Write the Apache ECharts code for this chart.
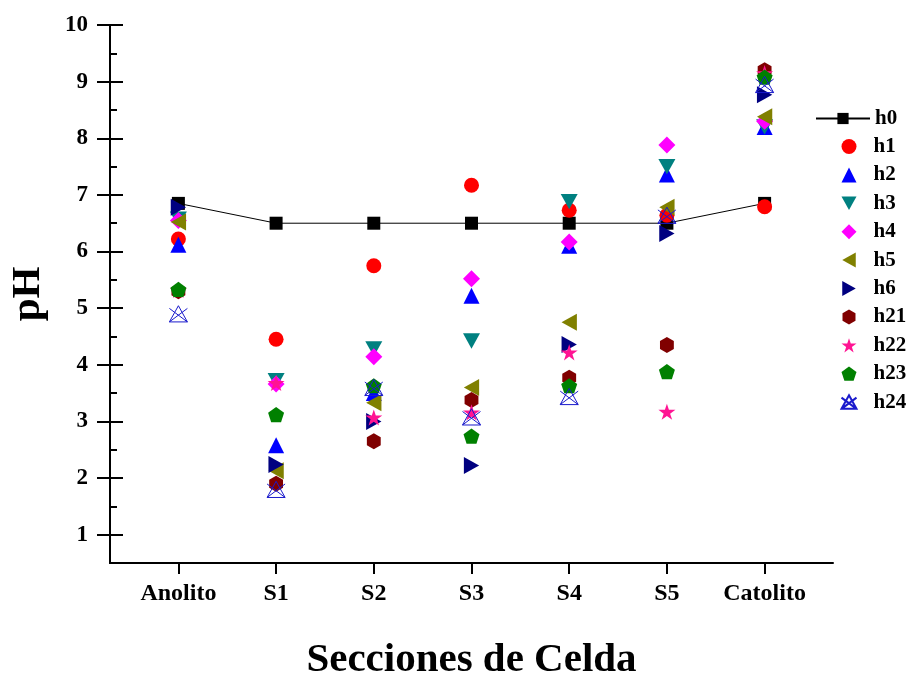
<!DOCTYPE html>
<html>
<head>
<meta charset="utf-8">
<script src="https://cdn.jsdelivr.net/npm/echarts@6/dist/echarts.min.js"></script>
<style>html,body{margin:0;padding:0;background:#fff}#c{width:912px;height:673px}</style>
</head>
<body>
<div id="c"></div>
<script>
const categories = ['Anolito','S1','S2','S3','S4','S5','Catolito'];
const yTicks = [1,2,3,4,5,6,7,8,9,10];
const h0  = [6.85, 6.5, 6.5, 6.5, 6.5, 6.5, 6.85];
const h1  = [6.22, 4.45, 5.75, 7.17, 6.73, 6.64, 6.79];
const h2  = [6.12, 2.58, 3.5, 5.22, 6.1, 7.36, 8.2];
const h3  = [6.57, 3.72, 4.28, 4.42, 6.88, 7.5, 8.2];
const h4  = [6.55, 3.66, 4.14, 5.52, 6.17, 7.88, 8.3];
const h5  = [6.52, 2.13, 3.33, 3.6, 4.75, 6.78, 8.38];
const h6  = [6.78, 2.24, 3.0, 2.22, 4.36, 6.32, 8.77];
const h21 = [5.3, 1.9, 2.65, 3.38, 3.77, 4.35, 9.2];
const h22 = [5.32, 3.68, 3.07, 3.16, 4.22, 3.17, 9.15];
const h23 = [5.33, 3.12, 3.63, 2.74, 3.63, 3.88, 9.08];
const h24 = [4.9, 1.8, 3.6, 3.08, 3.44, 6.64, 8.95];

const FONT = '"Liberation Serif", "Times New Roman", serif';
const toXY = arr => arr.map((v, i) => [i + 1, v]);

const P = {
  down: 'path://M0,0 L10,0 L5,9 Z',
  left: 'path://M0,5 L9,0 L9,10 Z',
  right: 'path://M0,0 L9,5 L0,10 Z',
  hex: 'path://M5,0 L9.33,2.5 L9.33,7.5 L5,10 L0.67,7.5 L0.67,2.5 Z',
  star: 'path://M5,0 L6.18,3.62 L10,3.62 L6.9,5.86 L8.09,9.5 L5,7.26 L1.91,9.5 L3.1,5.86 L0,3.62 L3.82,3.62 Z',
  pent: 'path://M5,0 L10,3.63 L8.09,9.51 L1.91,9.51 L0,3.63 Z',
  xtri: 'path://M5,0 L10,9 L0,9 Z M0,1.5 L10,9 M10,1.5 L0,9'
};

function sc(name, data, symbol, size, color, extra) {
  return Object.assign({
    name, type: 'scatter', data: toXY(data), symbol, symbolSize: size,
    symbolKeepAspect: true,
    itemStyle: { color, opacity: 1 },
    emphasis: { disabled: true }
  }, extra || {});
}

const series = [
  { name: 'h0', type: 'line', data: toXY(h0), symbol: 'rect', symbolSize: 13,
    lineStyle: { color: '#000', width: 1 }, itemStyle: { color: '#000' },
    emphasis: { disabled: true }, z: 1 },
  sc('h1', h1, 'circle', 15, '#ff0000'),
  sc('h2', h2, 'triangle', 16, '#0000ff'),
  sc('h3', h3, P.down, 17, '#008080'),
  sc('h4', h4, 'diamond', 17, '#ff00ff'),
  sc('h5', h5, P.left, 17, '#808000'),
  sc('h6', h6, P.right, 17, '#000080'),
  sc('h21', h21, P.hex, 16, '#800000'),
  sc('h22', h22, P.star, 17, '#ff1493'),
  sc('h23', h23, P.pent, 16, '#008000'),
  sc('h24', h24, P.xtri, 18, 'none', { itemStyle: { color: 'none', borderColor: '#1a1acc', borderWidth: 1, opacity: 1 } })
];

const chart = echarts.init(document.getElementById('c'), null, { renderer: 'canvas' });
const yAxisBase = {
  type: 'value', min: 0.5, max: 10, position: 'left',
  axisLine: { show: true, lineStyle: { color: '#000', width: 2 } },
  splitLine: { show: false }
};
chart.setOption({
  animation: false,
  backgroundColor: '#fff',
  grid: { left: 110, right: 79, top: 25, bottom: 110, containLabel: false, outerBoundsMode: 'none' },
  xAxis: {
    type: 'value', min: 0.3, max: 7.7,
    axisLine: { show: true, lineStyle: { color: '#000', width: 2 } },
    axisTick: { show: true, length: 11, lineStyle: { color: '#000', width: 2 }, customValues: [1,2,3,4,5,6,7] },
    axisLabel: { customValues: [1,2,3,4,5,6,7], formatter: v => categories[Math.round(v) - 1] || '',
      color: '#000', fontFamily: FONT, fontWeight: 'bold', fontSize: 24, margin: 19 },
    splitLine: { show: false },
    name: 'Secciones de Celda', nameLocation: 'middle', nameGap: 77,
    nameTextStyle: { color: '#000', fontFamily: FONT, fontWeight: 'bold', fontSize: 41 }
  },
  yAxis: [
    Object.assign({}, yAxisBase, {
      axisTick: { show: true, inside: false, length: 13, lineStyle: { color: '#000', width: 2 }, customValues: yTicks },
      axisLabel: { customValues: yTicks, color: '#000', fontFamily: FONT, fontWeight: 'bold', fontSize: 23, margin: 22 },
      name: 'pH', nameLocation: 'middle', nameGap: 61, nameRotate: 90,
      nameTextStyle: { color: '#000', fontFamily: FONT, fontWeight: 'bold', fontSize: 41 }
    }),
    Object.assign({}, yAxisBase, {
      axisTick: { show: true, inside: true, length: 13, lineStyle: { color: '#000', width: 2 },
        customValues: yTicks },
      axisLabel: { show: false }
    }),
    Object.assign({}, yAxisBase, {
      axisLine: { show: false },
      axisTick: { show: true, inside: true, length: 7, lineStyle: { color: '#000', width: 2 },
        customValues: [1.5,2.5,3.5,4.5,5.5,6.5,7.5,8.5,9.5] },
      axisLabel: { show: false }
    })
  ],
  legend: [
    { data: ['h0'], orient: 'vertical', left: 810, top: 103, itemWidth: 54, itemHeight: 14, itemGap: 0,
      textStyle: { color: '#000', fontFamily: FONT, fontWeight: 'bold', fontSize: 21, padding: [0,0,0,0] },
      selectedMode: false },
    { data: ['h1','h2','h3','h4','h5','h6','h21','h22','h23','h24'], orient: 'vertical', left: 834, top: 131,
      itemWidth: 15, itemHeight: 15, itemGap: 7.4,
      textStyle: { color: '#000', fontFamily: FONT, fontWeight: 'bold', fontSize: 21, padding: [0,0,0,12] },
      selectedMode: false }
  ],
  series: series
});
</script>
</body>
</html>
